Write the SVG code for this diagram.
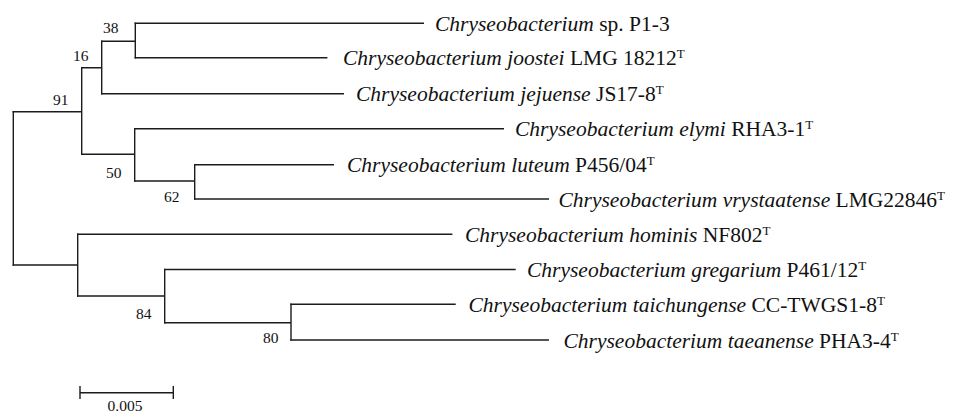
<svg xmlns="http://www.w3.org/2000/svg" width="955" height="414" viewBox="0 0 955 414">
<style>
.br{fill:none;stroke:#1c1c1c;stroke-width:1.4;stroke-linecap:square}
.lf{font-family:"Liberation Serif","Times New Roman",serif;font-size:21.5px;fill:#111}
.sp{font-style:italic}
.sup{font-size:13px}
.bs{font-family:"Liberation Serif","Times New Roman",serif;font-size:15.5px;fill:#111}
</style>
<rect width="955" height="414" fill="#fff"/>
<g id="connectors" class="br">
<path d="M13.3 111.7V265"/>
<path d="M13.3 111.7H81.7M81.7 67.7V154.3"/>
<path d="M81.7 67.7H101.7M101.7 41.3V93.7"/>
<path d="M101.7 41.3H135.3M135.3 23.3V57.7"/>
<path d="M135.3 23.3H423.3"/>
<path d="M135.3 57.7H326.7"/>
<path d="M101.7 93.7H343.3"/>
<path d="M81.7 154.3H134.7M134.7 128.7V181"/>
<path d="M134.7 128.7H503.3"/>
<path d="M134.7 181H194.7M194.7 164.7V199"/>
<path d="M194.7 164.7H333.3"/>
<path d="M194.7 199H548.3"/>
<path d="M13.3 265H77.7M77.7 234.3V296"/>
<path d="M77.7 234.3H451.7"/>
<path d="M77.7 296H164.7M164.7 269.5V322.7"/>
<path d="M164.7 269.5H515"/>
<path d="M164.7 322.7H291M291 304.2V340"/>
<path d="M291 304.2H455"/>
<path d="M291 340H548.3"/>
</g>
<g id="node-91"><text class="bs" x="53" y="105">91</text></g>
<g id="node-16"><text class="bs" x="73" y="60.7">16</text></g>
<g id="node-38"><text class="bs" x="103" y="33">38</text></g>
<g id="node-50"><text class="bs" x="106" y="177.7">50</text></g>
<g id="node-62"><text class="bs" x="164" y="202">62</text></g>
<g id="node-84"><text class="bs" x="136" y="319">84</text></g>
<g id="node-80"><text class="bs" x="263" y="342.5">80</text></g>
<g id="leaf-p1-3"><text class="lf" x="435" y="30.8"><tspan class="sp">Chryseobacterium</tspan> sp. P1-3</text></g>
<g id="leaf-joostei"><text class="lf" x="343" y="65.2"><tspan class="sp">Chryseobacterium joostei</tspan> LMG 18212<tspan class="sup" dy="-7">T</tspan></text></g>
<g id="leaf-jejuense"><text class="lf" x="356" y="101.2"><tspan class="sp">Chryseobacterium jejuense</tspan> JS17-8<tspan class="sup" dy="-7">T</tspan></text></g>
<g id="leaf-elymi"><text class="lf" x="515" y="136.2"><tspan class="sp">Chryseobacterium elymi</tspan> RHA3-1<tspan class="sup" dy="-7">T</tspan></text></g>
<g id="leaf-luteum"><text class="lf" x="347" y="172.2"><tspan class="sp">Chryseobacterium luteum</tspan> P456/04<tspan class="sup" dy="-7">T</tspan></text></g>
<g id="leaf-vrystaatense"><text class="lf" x="558.5" y="206.5"><tspan class="sp">Chryseobacterium vrystaatense</tspan> LMG22846<tspan class="sup" dy="-7">T</tspan></text></g>
<g id="leaf-hominis"><text class="lf" x="465" y="241.8"><tspan class="sp">Chryseobacterium hominis</tspan> NF802<tspan class="sup" dy="-7">T</tspan></text></g>
<g id="leaf-gregarium"><text class="lf" x="527" y="277"><tspan class="sp">Chryseobacterium gregarium</tspan> P461/12<tspan class="sup" dy="-7">T</tspan></text></g>
<g id="leaf-taichungense"><text class="lf" x="468.5" y="311.7"><tspan class="sp">Chryseobacterium taichungense</tspan> CC-TWGS1-8<tspan class="sup" dy="-7">T</tspan></text></g>
<g id="leaf-taeanense"><text class="lf" x="563.5" y="347.5"><tspan class="sp">Chryseobacterium taeanense</tspan> PHA3-4<tspan class="sup" dy="-7">T</tspan></text></g>
<g id="scale-bar">
<path class="br" d="M80 392.7H173.3M80 386.7V398.3M173.3 386.7V398.3"/>
<text class="bs" x="125" y="410.5" text-anchor="middle">0.005</text>
</g>
</svg>
